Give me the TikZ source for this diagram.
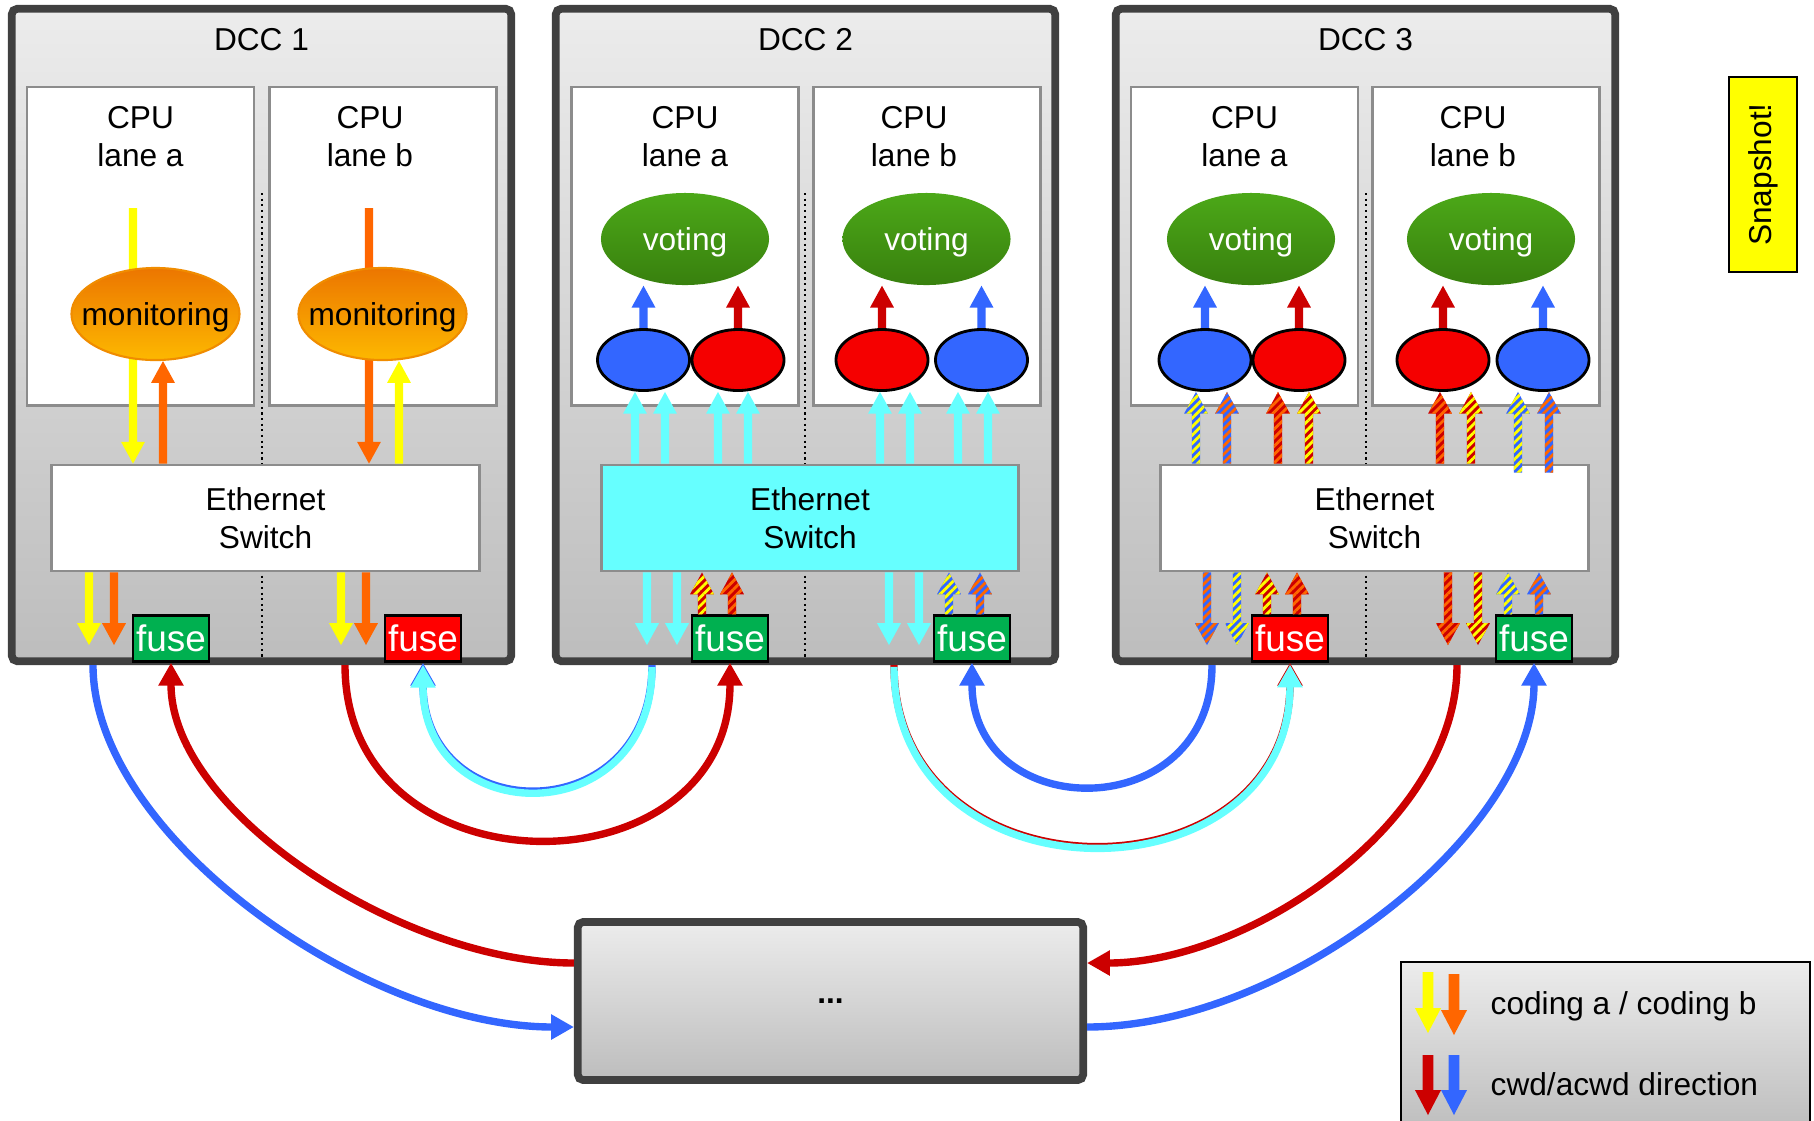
\documentclass[tikz,border=0pt]{standalone}
\usepackage{fontspec}
\setmainfont{Liberation Sans}
\usepackage{tikz}
\definecolor{cwd}{RGB}{204,0,0}
\definecolor{acwd}{RGB}{51,102,255}
\definecolor{codea}{RGB}{255,255,0}
\definecolor{codeb}{RGB}{255,102,0}
\definecolor{aqua}{RGB}{102,255,255}
\definecolor{dccline}{RGB}{64,64,64}
\definecolor{shadetop}{RGB}{236,236,236}
\definecolor{shadebot}{RGB}{189,189,189}
\definecolor{boxline}{RGB}{140,140,140}
\definecolor{montop}{RGB}{236,118,0}
\definecolor{monbot}{RGB}{253,184,0}
\definecolor{monline}{RGB}{240,140,0}
\definecolor{votetop}{RGB}{76,168,24}
\definecolor{votebot}{RGB}{56,128,14}
\definecolor{fuseok}{RGB}{0,176,80}
\definecolor{fusebad}{RGB}{255,0,0}
\definecolor{ballred}{RGB}{245,0,0}
\usetikzlibrary{arrows.meta, calc, positioning, patterns.meta, shapes.geometric}
\pgfdeclarelayer{front}
\pgfsetlayers{main,front}

% fat block arrow, vertical only: tail, tip
\newcommand{\arsw}{1.2pt}
\newcommand{\arhw}{3.4pt}
\newcommand{\arhl}{6.2pt}
\newcommand{\fatarrow}[3][]{%
  \path[#1] let \p1=#2, \p2=#3, \n1={(\y2>\y1)*2-1} in
    ({\x1-\arsw},{\y1}) -- ({\x1-\arsw},{\y2-(\n1)*\arhl}) -- ({\x1-\arhw},{\y2-(\n1)*\arhl})
    -- ({\x1},{\y2}) -- ({\x1+\arhw},{\y2-(\n1)*\arhl}) -- ({\x1+\arsw},{\y2-(\n1)*\arhl})
    -- ({\x1+\arsw},{\y1}) -- cycle;}

\begin{document}
\begin{tikzpicture}[x=0.01cm, y=-0.01cm, >={Triangle[width=6.8pt,length=6.5pt]},
    font=\fontsize{9}{10.8}\selectfont,
    dcc/.style={draw=dccline, line width=2.2pt, rounded corners=1.5pt, top color=shadetop, bottom color=shadebot,
                minimum width=4.99cm, minimum height=6.52cm, inner sep=0pt},
    cpu/.style={draw=boxline, line width=0.8pt, fill=white, minimum width=2.27cm, minimum height=3.18cm, inner sep=0pt},
    eswitch/.style={draw=boxline, line width=0.8pt, fill=white, minimum width=4.27cm, minimum height=1.06cm, align=center},
    mon/.style={ellipse, draw=monline, line width=0.6pt, top color=montop, bottom color=monbot,
                minimum width=1.68cm, minimum height=0.92cm, inner sep=0pt},
    vote/.style={ellipse, top color=votetop, bottom color=votebot, minimum width=1.68cm, minimum height=0.92cm, inner sep=0pt},
    ball/.style={ellipse, draw=black, line width=0.8pt, fill=#1, minimum width=0.92cm, minimum height=0.61cm, inner sep=0pt},
    fuse/.style={draw=black, line width=0.7pt, fill=#1, text=white, font=\fontsize{10.5}{12}\selectfont,
                 minimum width=0.76cm, minimum height=0.46cm, inner sep=0pt},
    hatch/.style 2 args={preaction={fill=#1}, pattern={Lines[angle=45,distance=1.7pt,line width=0.8pt]}, pattern color=#2},
    conn/.style={line width=2.1pt, ->},
    lanesep/.style={densely dotted, line width=0.6pt}]
\useasboundingbox (0,0) rectangle (1814,1120);
\clip (0,0) rectangle (1814,1120);

% the three DCCs
\node[dcc] (dcc1) at (261.5,335) {};
\node[dcc] (dcc2) at (805.5,335) {};
\node[dcc] (dcc3) at (1365.5,335) {};
\node[below=3pt of dcc1.north] (name1) {DCC 1};
\node[below=3pt of dcc2.north] (name2) {DCC 2};
\node[below=3pt of dcc3.north] (name3) {DCC 3};
\draw[lanesep] (262,193) -- (262,657);
\draw[lanesep] (805,193) -- (805,657);
\draw[lanesep] (1366,193) -- (1366,657);

% CPU lanes
\node[cpu] (cpu1a) at (140.5,246) {};
\node[cpu] (cpu1b) at (383,246) {};
\node[cpu] (cpu2a) at (685,246) {};
\node[cpu] (cpu2b) at (927,246) {};
\node[cpu] (cpu3a) at (1244.5,246) {};
\node[cpu] (cpu3b) at (1486,246) {};
\node[below=2.3pt of cpu1a.north, align=center] (lane1a) {CPU\\lane a};
\node[below=2.3pt of cpu1b.north, align=center, xshift=-3.7pt] (lane1b) {CPU\\lane b};
\node[below=2.3pt of cpu2a.north, align=center] (lane2a) {CPU\\lane a};
\node[below=2.3pt of cpu2b.north, align=center, xshift=-3.7pt] (lane2b) {CPU\\lane b};
\node[below=2.3pt of cpu3a.north, align=center] (lane3a) {CPU\\lane a};
\node[below=2.3pt of cpu3b.north, align=center, xshift=-3.7pt] (lane3b) {CPU\\lane b};

% switches and fuses
\node[eswitch] (sw1) at (265.5,518) {Ethernet\\Switch};
\node[eswitch, fill=aqua, minimum width=4.16cm] (sw2) at (810,518) {Ethernet\\Switch};
\node[eswitch] (sw3) at (1374.5,518) {Ethernet\\Switch};
\node[fuse=fuseok] (fuse1a) at (171,638.5) {fuse};
\node[fuse=fusebad] (fuse1b) at (423,638.5) {fuse};
\node[fuse=fuseok] (fuse2a) at (730,638.5) {fuse};
\node[fuse=fuseok] (fuse2b) at (972,638.5) {fuse};
\node[fuse=fusebad] (fuse3a) at (1290,638.5) {fuse};
\node[fuse=fuseok] (fuse3b) at (1534,638.5) {fuse};
\coordinate (feed) at (0,208);
\coordinate (low) at (0,645);

% monitoring / voting on top of the lane arrows
\begin{pgfonlayer}{front}
\node[mon, label={[yshift=-1pt]center:monitoring}] (mon1a) at (155.5,314) {};
\node[mon, label={[yshift=-1pt]center:monitoring}] (mon1b) at (382.5,314) {};
\node[vote, label={[text=white, yshift=-1pt]center:voting}] (vote2a) at (685,239) {};
\node[vote, label={[text=white, yshift=-1pt]center:voting}] (vote2b) at (926.5,239) {};
\node[vote, label={[text=white, yshift=-1pt]center:voting}] (vote3a) at (1251,239) {};
\node[vote, label={[text=white, yshift=-1pt]center:voting}] (vote3b) at (1491,239) {};
\node[ball=acwd] (e2a1) at (643.5,360) {};
\node[ball=ballred] (e2a2) at (738,360) {};
\node[ball=ballred] (e2b1) at (882,360) {};
\node[ball=acwd] (e2b2) at (981.5,360) {};
\node[ball=acwd] (e3a1) at (1205,360) {};
\node[ball=ballred] (e3a2) at (1299,360) {};
\node[ball=ballred] (e3b1) at (1443,360) {};
\node[ball=acwd] (e3b2) at (1543,360) {};
\end{pgfonlayer}

% DCC 1 traffic
\fatarrow[fill=codea]{(133,0 |- feed)}{(133,0 |- sw1.north)}
\fatarrow[fill=codeb]{(163,0 |- sw1.north)}{(163,0 |- mon1a.south)}
\fatarrow[fill=codeb]{(369,0 |- feed)}{(369,0 |- sw1.north)}
\fatarrow[fill=codea]{(399,0 |- sw1.north)}{(399,0 |- mon1b.south)}
\fatarrow[fill=codea]{(89,0 |- sw1.south)}{(89,0 |- low)}
\fatarrow[fill=codeb]{(114,0 |- sw1.south)}{(114,0 |- low)}
\fatarrow[fill=codea]{(341,0 |- sw1.south)}{(341,0 |- low)}
\fatarrow[fill=codeb]{(366,0 |- sw1.south)}{(366,0 |- low)}

% DCC 2 traffic
\fatarrow[fill=acwd]{(e2a1.north)}{(e2a1.north |- vote2a.south)}
\fatarrow[fill=cwd]{(e2a2.north)}{(e2a2.north |- vote2a.south)}
\fatarrow[fill=cwd]{(e2b1.north)}{(e2b1.north |- vote2b.south)}
\fatarrow[fill=acwd]{(e2b2.north)}{(e2b2.north |- vote2b.south)}
\fatarrow[fill=aqua]{(635,0 |- sw2.north)}{(635,0 |- e2a1.south)}
\fatarrow[fill=aqua]{(665,0 |- sw2.north)}{(665,0 |- e2a1.south)}
\fatarrow[fill=aqua]{(718,0 |- sw2.north)}{(718,0 |- e2a2.south)}
\fatarrow[fill=aqua]{(748,0 |- sw2.north)}{(748,0 |- e2a2.south)}
\fatarrow[fill=aqua]{(880,0 |- sw2.north)}{(880,0 |- e2b1.south)}
\fatarrow[fill=aqua]{(910,0 |- sw2.north)}{(910,0 |- e2b1.south)}
\fatarrow[fill=aqua]{(958,0 |- sw2.north)}{(958,0 |- e2b2.south)}
\fatarrow[fill=aqua]{(988,0 |- sw2.north)}{(988,0 |- e2b2.south)}
\fatarrow[fill=aqua]{(647,0 |- sw2.south)}{(647,0 |- low)}
\fatarrow[fill=aqua]{(677,0 |- sw2.south)}{(677,0 |- low)}
\fatarrow[hatch={cwd}{codea}]{(702,0 |- fuse2a.north)}{(702,0 |- sw2.south)}
\fatarrow[hatch={cwd}{codeb}]{(732,0 |- fuse2a.north)}{(732,0 |- sw2.south)}
\fatarrow[fill=aqua]{(889,0 |- sw2.south)}{(889,0 |- low)}
\fatarrow[fill=aqua]{(919,0 |- sw2.south)}{(919,0 |- low)}
\fatarrow[hatch={acwd}{codea}]{(949,0 |- fuse2b.north)}{(949,0 |- sw2.south)}
\fatarrow[hatch={acwd}{codeb}]{(980,0 |- fuse2b.north)}{(980,0 |- sw2.south)}

% DCC 3 traffic
\fatarrow[fill=acwd]{(e3a1.north)}{(e3a1.north |- vote3a.south)}
\fatarrow[fill=cwd]{(e3a2.north)}{(e3a2.north |- vote3a.south)}
\fatarrow[fill=cwd]{(e3b1.north)}{(e3b1.north |- vote3b.south)}
\fatarrow[fill=acwd]{(e3b2.north)}{(e3b2.north |- vote3b.south)}
\fatarrow[hatch={acwd}{codea}]{(1196,0 |- sw3.north)}{(1196,0 |- e3a1.south)}
\fatarrow[hatch={acwd}{codeb}]{(1227,0 |- sw3.north)}{(1227,0 |- e3a1.south)}
\fatarrow[hatch={cwd}{codeb}]{(1278,0 |- sw3.north)}{(1278,0 |- e3a2.south)}
\fatarrow[hatch={cwd}{codea}]{(1309,0 |- sw3.north)}{(1309,0 |- e3a2.south)}
\fatarrow[hatch={cwd}{codeb}]{(1440,0 |- sw3.north)}{(1440,0 |- e3b1.south)}
\fatarrow[hatch={cwd}{codea}]{(1471,0 |- sw3.north)}{(1471,0 |- e3b1.south)}
\fatarrow[hatch={acwd}{codea}]{($(1518,0 |- sw3.north)+(0,9)$)}{(1518,0 |- e3b2.south)}
\fatarrow[hatch={acwd}{codeb}]{($(1549,0 |- sw3.north)+(0,9)$)}{(1549,0 |- e3b2.south)}
\fatarrow[hatch={acwd}{codeb}]{(1207,0 |- sw3.south)}{(1207,0 |- low)}
\fatarrow[hatch={acwd}{codea}]{(1237,0 |- sw3.south)}{(1237,0 |- low)}
\fatarrow[hatch={cwd}{codea}]{(1267,0 |- fuse3a.north)}{(1267,0 |- sw3.south)}
\fatarrow[hatch={cwd}{codeb}]{(1297,0 |- fuse3a.north)}{(1297,0 |- sw3.south)}
\fatarrow[hatch={cwd}{codeb}]{(1448,0 |- sw3.south)}{(1448,0 |- low)}
\fatarrow[hatch={cwd}{codea}]{(1478,0 |- sw3.south)}{(1478,0 |- low)}
\fatarrow[hatch={acwd}{codea}]{(1508,0 |- fuse3b.north)}{(1508,0 |- sw3.south)}
\fatarrow[hatch={acwd}{codeb}]{(1539,0 |- fuse3b.north)}{(1539,0 |- sw3.south)}

% rest of the ring, snapshot marker, legend
\node[dcc, minimum width=5.05cm, minimum height=1.58cm] (more) at (830.5,1001) {\textbf{...}};
\node[draw=black, line width=0.6pt, fill=codea, minimum width=1.95cm, minimum height=0.68cm, rotate=90] (snap) at (1763,174.5) {Snapshot!};
\node[draw=black, line width=0.7pt, top color=shadetop, bottom color=shadebot, minimum width=4.09cm, minimum height=1.7cm, inner sep=0pt] (legend) at (1605.5,1047) {};
\begin{scope}
  \renewcommand{\arsw}{1.5pt}\renewcommand{\arhw}{3.7pt}\renewcommand{\arhl}{7.1pt}
  \fatarrow[fill=codea]{(1428,972)}{(1428,1033)}
  \fatarrow[fill=codeb]{(1454,974)}{(1454,1035)}
  \fatarrow[fill=cwd]{(1428,1055)}{(1428,1115)}
  \fatarrow[fill=acwd]{(1454,1055)}{(1454,1115)}
\end{scope}
\node[anchor=base west, inner sep=0pt] (key1) at (1490,1014) {coding a / coding b};
\node[anchor=base west, inner sep=0pt] (key2) at (1490,1095) {cwd/acwd direction};

% ring links between the fuses
\draw[conn, acwd] (93,0 |- dcc1.south) .. controls +(0,170) and +(-210,0) .. (more.west |- 0,1027);
\draw[conn, cwd] (more.west |- 0,963) .. controls +(-170,0) and +(0,150) .. (fuse1a.south);
\draw[conn, cwd] (345,0 |- dcc1.south) .. controls +(0,233) and +(0,233) .. (fuse2a.south);
\draw[conn, acwd] (652,0 |- dcc2.south) .. controls +(0,166) and +(0,166) .. (fuse1b.south);
\draw[conn, aqua, transform canvas={yshift=-0.6pt}] (652,0 |- dcc2.south) .. controls +(0,166) and +(0,166) .. (fuse1b.south);
\draw[conn, cwd] (894,0 |- dcc2.south) .. controls +(0,240) and +(0,240) .. (fuse3a.south);
\draw[conn, aqua, transform canvas={yshift=-0.5pt}] (894,0 |- dcc2.south) .. controls +(0,240) and +(0,240) .. (fuse3a.south);
\draw[conn, acwd] (1212,0 |- dcc3.south) .. controls +(0,162) and +(0,162) .. (fuse2b.south);
\draw[conn, cwd] (1457,0 |- dcc3.south) .. controls +(0,160) and +(160,0) .. (more.east |- 0,963);
\draw[conn, acwd] (more.east |- 0,1027) .. controls +(200,0) and +(0,170) .. (fuse3b.south);
\end{tikzpicture}
\end{document}
